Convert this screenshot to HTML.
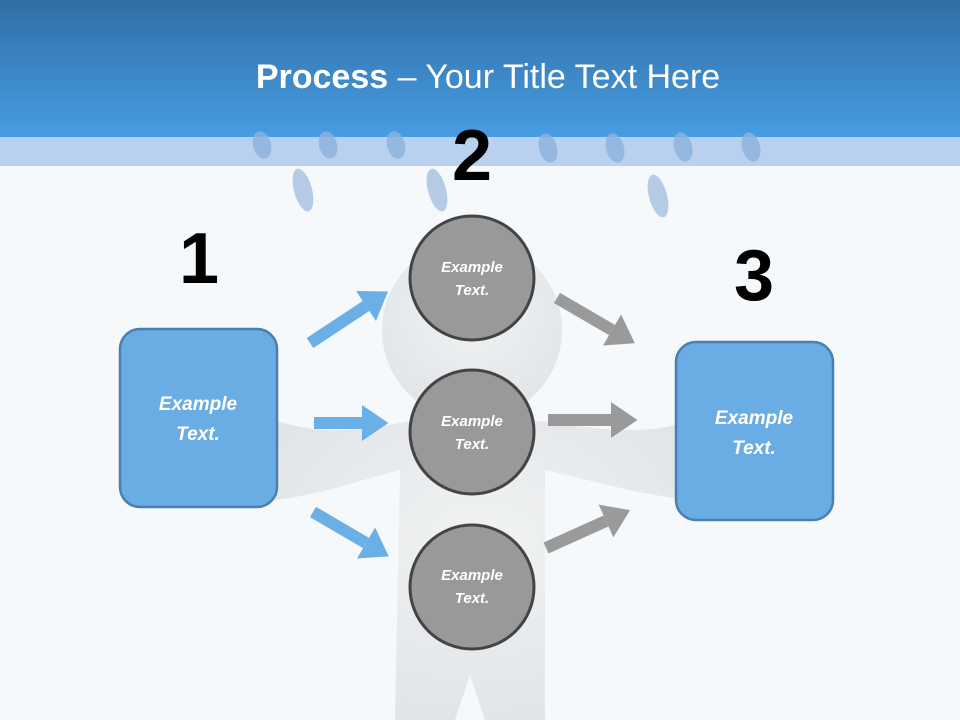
<!DOCTYPE html>
<html><head><style>body{margin:0}svg{display:block}</style></head><body>
<svg width="960" height="720" xmlns="http://www.w3.org/2000/svg">
<defs>
<linearGradient id="hd" x1="0" y1="0" x2="0" y2="1"><stop offset="0" stop-color="#2f6ea6"/><stop offset="1" stop-color="#489de2"/></linearGradient>
<radialGradient id="bd" cx="0.5" cy="0.4" r="0.6"><stop offset="0" stop-color="#f0f2f3"/><stop offset="1" stop-color="#e2e5e8"/></radialGradient>
<marker id="ab" markerWidth="3" markerHeight="3" refX="0" refY="1.5" orient="auto" markerUnits="strokeWidth"><path d="M0,0 L2.2,1.5 L0,3z" fill="#6aafe5"/></marker>
<marker id="ag" markerWidth="3" markerHeight="3" refX="0" refY="1.5" orient="auto" markerUnits="strokeWidth"><path d="M0,0 L2.2,1.5 L0,3z" fill="#9a9a9a"/></marker>
</defs>
<rect width="960" height="720" fill="#f5f9fc"/>
<rect width="960" height="137" fill="url(#hd)"/>
<rect y="137" width="960" height="29" fill="#b9d1ee"/>
<g fill="#8db3df" opacity="0.8">
<ellipse cx="262" cy="145" rx="9" ry="14" transform="rotate(-15 262 145)"/>
<ellipse cx="328" cy="145" rx="9" ry="14" transform="rotate(-15 328 145)"/>
<ellipse cx="396" cy="145" rx="9" ry="14" transform="rotate(-15 396 145)"/>
<ellipse cx="548" cy="148" rx="9" ry="15" transform="rotate(-15 548 148)"/>
<ellipse cx="615" cy="148" rx="9" ry="15" transform="rotate(-15 615 148)"/>
<ellipse cx="683" cy="147" rx="9" ry="15" transform="rotate(-15 683 147)"/>
<ellipse cx="751" cy="147" rx="9" ry="15" transform="rotate(-15 751 147)"/>
</g>
<g fill="#b5cbe6">
<ellipse cx="303" cy="190" rx="9" ry="22" transform="rotate(-15 303 190)"/>
<ellipse cx="437" cy="190" rx="9" ry="22" transform="rotate(-15 437 190)"/>
<ellipse cx="658" cy="196" rx="9" ry="22" transform="rotate(-15 658 196)"/>
</g>
<text x="488" y="88" text-anchor="middle" fill="#fff" font-family="Liberation Sans, sans-serif" font-size="34"><tspan font-weight="bold">Process</tspan> – Your Title Text Here</text>
<g fill="url(#bd)">
<path d="M275,420 C330,440 380,425 420,420 L530,420 C580,425 640,440 690,420 L690,500 C640,495 590,480 545,470 L545,720 L395,720 L400,470 C360,480 320,495 275,500 Z"/>
<circle cx="472" cy="330" r="90"/>
</g>
<path d="M455,720 L470,675 L485,720Z" fill="#f5f9fc"/>
<g stroke-width="12" fill="none">
<line x1="310" y1="343" x2="366" y2="306" stroke="#6aafe5" marker-end="url(#ab)"/>
<line x1="314" y1="423" x2="362" y2="423" stroke="#6aafe5" marker-end="url(#ab)"/>
<line x1="313" y1="512" x2="366" y2="543" stroke="#6aafe5" marker-end="url(#ab)"/>
<line x1="557" y1="298" x2="612" y2="330" stroke="#9a9a9a" marker-end="url(#ag)"/>
<line x1="548" y1="420" x2="611" y2="420" stroke="#9a9a9a" marker-end="url(#ag)"/>
<line x1="546" y1="548" x2="606" y2="521" stroke="#9a9a9a" marker-end="url(#ag)"/>
</g>
<g fill="#999" stroke="#444" stroke-width="3">
<circle cx="472" cy="278" r="62"/><circle cx="472" cy="432" r="62"/><circle cx="472" cy="587" r="62"/>
</g>
<rect x="120" y="329" width="157" height="178" rx="20" fill="#6aade4" stroke="#4a7fb0" stroke-width="2.5"/>
<rect x="676" y="342" width="157" height="178" rx="20" fill="#6aade4" stroke="#4a7fb0" stroke-width="2.5"/>
<g fill="#fff" font-family="Liberation Sans, sans-serif" font-weight="bold" font-style="italic" text-anchor="middle">
<text x="472" y="272" font-size="15">Example</text><text x="472" y="295" font-size="15">Text.</text>
<text x="472" y="426" font-size="15">Example</text><text x="472" y="449" font-size="15">Text.</text>
<text x="472" y="580" font-size="15">Example</text><text x="472" y="603" font-size="15">Text.</text>
<text x="198" y="410" font-size="19">Example</text><text x="198" y="440" font-size="19">Text.</text>
<text x="754" y="424" font-size="19">Example</text><text x="754" y="454" font-size="19">Text.</text>
</g>
<g fill="#000" font-family="Liberation Sans, sans-serif" font-weight="bold" font-size="72" text-anchor="middle">
<text x="199" y="283">1</text><text x="472" y="180">2</text><text x="754" y="300">3</text>
</g>
</svg>
</body></html>
